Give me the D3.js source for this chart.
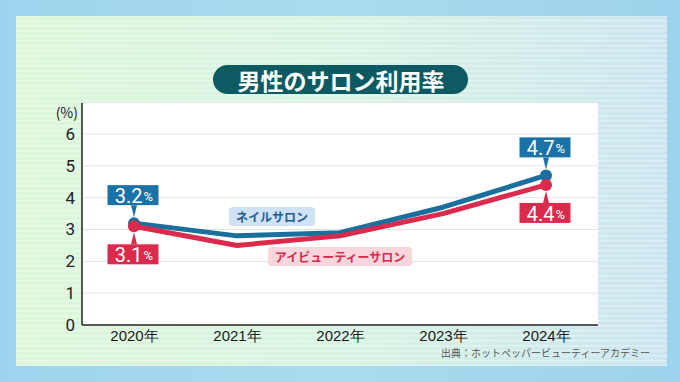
<!DOCTYPE html>
<html>
<head>
<meta charset="utf-8">
<script src="https://cdn.jsdelivr.net/npm/d3@7"></script>
<style>
  body { margin: 0; background: #a0d6ee; }
  svg { display: block; font-family: "Noto Sans CJK JP", "Noto Sans", sans-serif; }
</style>
</head>
<body>
<svg id="chart" width="680" height="382"></svg>
<script>
// data
let years = ["2020年", "2021年", "2022年", "2023年", "2024年"];
let nailValues = [3.2, 2.8, 2.9, 3.7, 4.7];
let eyeValues = [3.1, 2.5, 2.8, 3.5, 4.4];
let yTicks = [0, 1, 2, 3, 4, 5, 6];
let seriesNames = ["ネイルサロン", "アイビューティーサロン"];
let title = "男性のサロン利用率";
let source = "出典：ホットペッパービューティーアカデミー";

let blue = "#1a6f9d", red = "#dc2a4c";
let plot = {left: 82, right: 598, top: 103, bottom: 325};

let svg = d3.select("#chart");
let defs = svg.append("defs");

// background
let bgGrad = defs.append("linearGradient").attr("id", "outerBg").attr("x1", 0).attr("x2", 1);
bgGrad.append("stop").attr("offset", 0).attr("stop-color", "#9ed5ee");
bgGrad.append("stop").attr("offset", 0.5).attr("stop-color", "#aadbee");
bgGrad.append("stop").attr("offset", 1).attr("stop-color", "#9dd3ec");
svg.append("rect").attr("width", 680).attr("height", 382).attr("fill", "url(#outerBg)");

let panelGrad = defs.append("linearGradient").attr("id", "panelBg").attr("x1", 0).attr("x2", 1);
panelGrad.append("stop").attr("offset", 0).attr("stop-color", "#dcf7da");
panelGrad.append("stop").attr("offset", 0.5).attr("stop-color", "#d9f3e3");
panelGrad.append("stop").attr("offset", 1).attr("stop-color", "#cbe6f0");
svg.append("rect").attr("x", 16).attr("y", 16).attr("width", 651).attr("height", 350).attr("fill", "url(#panelBg)");

// faint stripes
let stripes = defs.append("pattern").attr("id", "stripes").attr("patternUnits", "userSpaceOnUse")
  .attr("width", 8).attr("height", 5);
stripes.append("rect").attr("width", 8).attr("height", 1.5).attr("fill", "#ffffff").attr("opacity", 0.35);
svg.append("rect").attr("x", 16).attr("y", 16).attr("width", 651).attr("height", 350).attr("fill", "url(#stripes)");

// title pill
let titleG = svg.append("g");
titleG.append("rect").attr("x", 213).attr("y", 65).attr("width", 255).attr("height", 29).attr("rx", 14.5)
  .attr("fill", "#0e5a62");
titleG.append("text").attr("x", 341).attr("y", 79.5).attr("text-anchor", "middle").attr("dominant-baseline", "central")
  .attr("fill", "#fff").attr("font-size", 23).attr("font-weight", 700).text(title);

// plot area
svg.append("rect").attr("x", plot.left).attr("y", plot.top).attr("width", plot.right - plot.left)
  .attr("height", plot.bottom - plot.top).attr("fill", "#fff");

let x = d3.scalePoint().domain(years).range([134, 546]);
let y = d3.scaleLinear().domain([0, 6]).range([plot.bottom, 134]);

// grid
svg.append("g").selectAll("line").data(yTicks.filter(d => d > 0)).join("line")
  .attr("x1", plot.left).attr("x2", plot.right)
  .attr("y1", d => y(d)).attr("y2", d => y(d))
  .attr("stroke", "#e4e4e4").attr("stroke-width", 1);

// axes
let yAxis = svg.append("g").attr("transform", `translate(${plot.left},0)`)
  .call(d3.axisLeft(y).tickValues(yTicks).tickSize(0).tickPadding(7).tickFormat(d3.format("d")));
yAxis.select(".domain").remove();
yAxis.selectAll("text").attr("font-size", 17).attr("fill", "#222").attr("font-family", "Roboto, 'Noto Sans', sans-serif");

let xAxis = svg.append("g").attr("transform", `translate(0,${plot.bottom})`)
  .call(d3.axisBottom(x).tickSize(0).tickPadding(5));
xAxis.select(".domain").remove();
xAxis.selectAll("text").attr("font-size", 15).attr("font-weight", 500).attr("fill", "#1a1a1a");

svg.append("line").attr("x1", plot.left).attr("x2", plot.left).attr("y1", plot.top).attr("y2", plot.bottom)
  .attr("stroke", "#222").attr("stroke-width", 1.5);
svg.append("line").attr("x1", plot.left).attr("x2", plot.right).attr("y1", plot.bottom).attr("y2", plot.bottom)
  .attr("stroke", "#222").attr("stroke-width", 1.5);

svg.append("text").attr("x", 78).attr("y", 112).attr("text-anchor", "end").attr("dominant-baseline", "central")
  .attr("font-size", 14).attr("fill", "#222").text("(%)");

// lines
let line = d3.line().x((d, i) => x(years[i])).y(d => y(d));
svg.append("path").datum(nailValues).attr("d", line).attr("fill", "none")
  .attr("stroke", blue).attr("stroke-width", 5).attr("stroke-linejoin", "round");
svg.append("path").datum(eyeValues).attr("d", line).attr("fill", "none")
  .attr("stroke", red).attr("stroke-width", 5).attr("stroke-linejoin", "round");

// end markers + callouts
let ends = [0, years.length - 1];
function callout(val, idx, color, above) {
  let cx = x(years[idx]), cy = y(val);
  let w = 51, h = 20, gap = 18;
  let by = above ? cy - gap - h : cy + gap;
  let g = svg.append("g");
  g.append("rect").attr("x", cx - w / 2 - 1).attr("y", by).attr("width", w).attr("height", h).attr("fill", color);
  let tip = above
    ? [[cx - 3, by + h], [cx + 3, by + h], [cx, cy - 6]]
    : [[cx - 3, by], [cx + 3, by], [cx, cy + 6]];
  g.append("path").attr("d", d3.line()(tip) + "Z").attr("fill", color);
  let t = g.append("text").attr("x", cx).attr("y", by + h / 2 + 1).attr("text-anchor", "middle")
    .attr("dominant-baseline", "central").attr("fill", "#fff").attr("font-family", "Roboto, 'Noto Sans', sans-serif");
  t.append("tspan").attr("font-size", 20).attr("font-weight", 400).text(val.toFixed(1));
  t.append("tspan").attr("font-size", 13).attr("dx", 1).text("%");
}
ends.forEach(i => {
  callout(nailValues[i], i, "#1b72a7", true);
  callout(eyeValues[i], i, red, false);
});
ends.forEach(i => {
  svg.append("circle").attr("cx", x(years[i])).attr("cy", y(nailValues[i])).attr("r", 6).attr("fill", blue);
  svg.append("circle").attr("cx", x(years[i])).attr("cy", y(eyeValues[i])).attr("r", 6).attr("fill", red);
});

// series labels
function seriesLabel(text, cx, cy, bg, fg) {
  let g = svg.append("g");
  let t = g.append("text").attr("x", cx).attr("y", cy).attr("text-anchor", "middle").attr("dominant-baseline", "central")
    .attr("font-size", 12).attr("font-weight", 700).attr("fill", fg).text(text);
  let bb = t.node().getBBox();
  g.insert("rect", "text").attr("x", bb.x - 7).attr("y", cy - 9.5).attr("width", bb.width + 14).attr("height", 19)
    .attr("rx", 4).attr("fill", bg);
}
seriesLabel(seriesNames[0], 272, 216.5, "#cfe2f6", "#1d5f8e");
seriesLabel(seriesNames[1], 340, 256.5, "#f9d5dc", "#d72a4b");

// source
svg.append("text").attr("x", 650).attr("y", 357).attr("text-anchor", "end").attr("font-size", 10)
  .attr("fill", "#555").text(source);
</script>
</body>
</html>
